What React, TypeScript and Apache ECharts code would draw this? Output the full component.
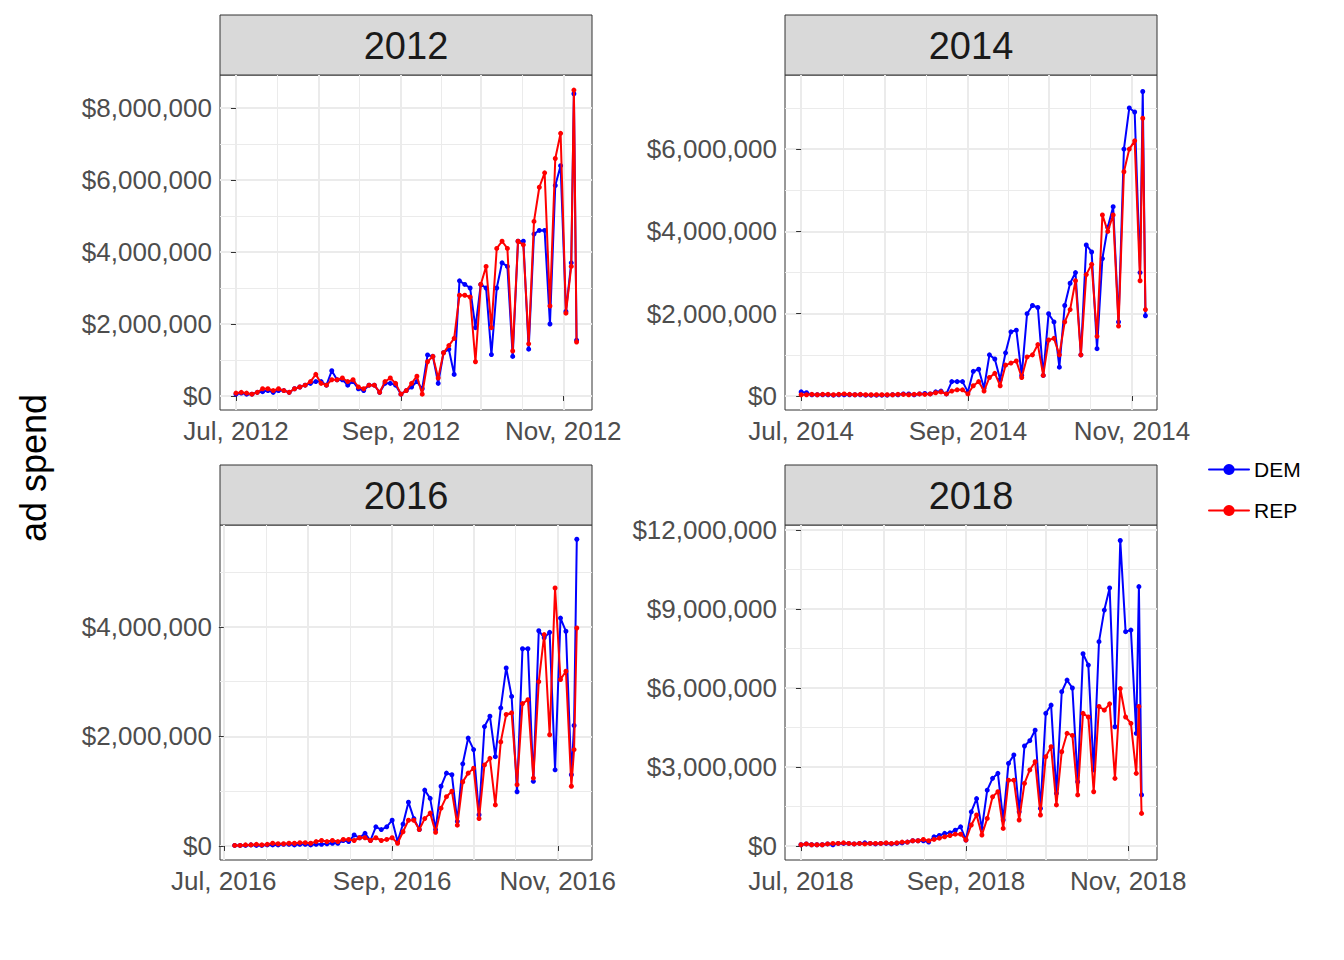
import { useEffect, useRef } from 'react';
import * as echarts from 'echarts';

const YEARS = ['2012', '2014', '2016', '2018'];
const MONTHS = ['Jul', 'Aug', 'Sep', 'Oct', 'Nov'];
// day offsets (from Jul 1) of the month starts and mid-month minor lines
const MONTH_DAYS = [0, 31, 62, 92, 123];
const MID_DAYS = [15.5, 46.5, 77, 107.5];

// sample days (from Jul 1) for 2012, 2014, 2018
const DAYS_A = [
  0, 2, 4, 6, 8, 10, 12, 14, 16, 18, 20, 22, 24, 26, 28, 30, 32, 34, 36, 38, 40, 42, 44, 46, 48,
  50, 52, 54, 56, 58, 60, 62, 64, 66, 68, 70, 72, 74, 76, 78, 80, 82, 84, 86, 88, 90, 92, 94, 96,
  98, 100, 102, 104, 106, 108, 110, 112, 114, 116, 118, 120, 122, 124, 126, 127, 128,
];
// sample days for 2016
const DAYS_B = [
  4, 6, 8, 10, 12, 14, 16, 18, 20, 22, 24, 26, 28, 30, 32, 34, 36, 38, 40, 42, 44, 46, 48, 50, 52,
  54, 56, 58, 60, 62, 64, 66, 68, 70, 72, 74, 76, 78, 80, 82, 84, 86, 88, 90, 92, 94, 96, 98, 100,
  102, 104, 106, 108, 110, 112, 114, 116, 118, 120, 122, 124, 126, 128, 129, 130,
];

// ad spend in millions of dollars
const DEM_2012 = [
  0.05, 0.08, 0.05, 0.05, 0.1, 0.12, 0.15, 0.1, 0.15, 0.15, 0.1, 0.2, 0.25, 0.3, 0.35, 0.4, 0.4, 0.3,
  0.7, 0.45, 0.45, 0.3, 0.4, 0.2, 0.15, 0.3, 0.3, 0.1, 0.35, 0.35, 0.3, 0.05, 0.15, 0.25, 0.4, 0.2,
  1.14, 1.1, 0.35, 1.2, 1.3, 0.6, 3.2, 3.1, 3.0, 1.9, 3.1, 3.0, 1.15, 3.0, 3.7, 3.6, 1.1, 4.3, 4.3,
  1.3, 4.5, 4.6, 4.6, 2.0, 5.85, 6.4, 2.35, 3.7, 8.4, 1.55,
];
const REP_2012 = [
  0.08, 0.1, 0.08, 0.05, 0.1, 0.2, 0.2, 0.15, 0.2, 0.15, 0.1, 0.2, 0.25, 0.3, 0.4, 0.6, 0.35, 0.3,
  0.45, 0.45, 0.5, 0.4, 0.45, 0.25, 0.2, 0.3, 0.3, 0.1, 0.4, 0.5, 0.35, 0.05, 0.15, 0.35, 0.55, 0.05,
  0.95, 1.1, 0.5, 1.2, 1.4, 1.6, 2.8, 2.8, 2.75, 0.95, 3.1, 3.6, 1.9, 4.1, 4.3, 4.1, 1.25, 4.3, 4.2,
  1.45, 4.85, 5.8, 6.2, 2.5, 6.6, 7.3, 2.3, 3.6, 8.5, 1.5,
];
const DEM_2014 = [
  0.1, 0.08, 0.03, 0.03, 0.03, 0.03, 0.02, 0.03, 0.03, 0.03, 0.03, 0.03, 0.02, 0.02, 0.02, 0.02,
  0.02, 0.03, 0.03, 0.05, 0.05, 0.03, 0.05, 0.06, 0.05,
  0.1, 0.12, 0.05, 0.35, 0.35, 0.35, 0.1, 0.6, 0.65, 0.19, 1.0, 0.9, 0.4, 1.05, 1.56, 1.6, 0.5, 2.0,
  2.2, 2.15, 0.5, 2.0, 1.8, 0.7, 2.2, 2.74, 3.0, 1.0, 3.67, 3.5, 1.15, 3.34, 4.1, 4.6, 1.8, 6.0,
  7.0, 6.9, 3.0, 7.4, 1.95,
];
const REP_2014 = [
  0.03, 0.03, 0.04, 0.03, 0.04, 0.04, 0.03, 0.04, 0.05, 0.04, 0.03, 0.04, 0.03, 0.03, 0.03, 0.03,
  0.03, 0.03, 0.04, 0.04, 0.03, 0.04, 0.05, 0.04, 0.05,
  0.08, 0.1, 0.05, 0.12, 0.15, 0.15, 0.05, 0.25, 0.35, 0.12, 0.45, 0.55, 0.25, 0.75, 0.8, 0.85,
  0.45, 0.95, 1.0, 1.25, 0.5, 1.36, 1.4, 1.0, 1.8, 2.1, 2.8, 1.0, 2.95, 3.2, 1.45, 4.4, 4.0, 4.4,
  1.7, 5.45, 6.0, 6.2, 2.8, 6.75, 2.1,
];
const DEM_2016 = [
  0.01, 0.01, 0.01, 0.02, 0.01, 0.01, 0.02, 0.02, 0.02, 0.03, 0.03, 0.02, 0.03, 0.03, 0.02, 0.03,
  0.03, 0.04, 0.05, 0.05, 0.1, 0.08, 0.2, 0.15, 0.23, 0.1, 0.35, 0.3, 0.35, 0.47, 0.08,
  0.4, 0.8, 0.5, 0.3, 1.02, 0.87, 0.3, 1.09, 1.33, 1.3, 0.45, 1.5, 1.97, 1.76, 0.57, 2.18, 2.37,
  1.63, 2.52, 3.25, 2.73, 0.99, 3.6, 3.6, 1.18, 3.93, 3.8, 3.9, 1.39, 4.16, 3.92, 1.3, 2.2, 5.6,
];
const REP_2016 = [
  0.01, 0.01, 0.02, 0.02, 0.03, 0.02, 0.03, 0.05, 0.04, 0.04, 0.05, 0.05, 0.06, 0.06, 0.05, 0.08,
  0.1, 0.08, 0.1, 0.08, 0.12, 0.12, 0.1, 0.15, 0.15, 0.1, 0.15, 0.1, 0.12, 0.15, 0.05,
  0.26, 0.47, 0.47, 0.3, 0.5, 0.6, 0.25, 0.69, 0.9, 1.0, 0.38, 1.17, 1.33, 1.42, 0.5, 1.48, 1.6,
  0.75, 1.9, 2.4, 2.43, 1.12, 2.6, 2.67, 1.24, 3.0, 3.86, 2.03, 4.71, 3.04, 3.19, 1.09, 1.76, 3.98,
];
const DEM_2018 = [
  0.05, 0.08, 0.05, 0.05, 0.05, 0.08, 0.05, 0.1, 0.1, 0.1, 0.08, 0.1, 0.12, 0.1, 0.08, 0.1, 0.1,
  0.08, 0.1, 0.12, 0.15, 0.2, 0.2, 0.2, 0.15, 0.35, 0.4, 0.48, 0.5, 0.6, 0.73,
  0.23, 1.3, 1.8, 0.67, 2.12, 2.57, 2.76, 0.99, 3.14, 3.46, 1.3, 3.8, 4.0, 4.4, 1.43, 5.04, 5.35,
  2.0, 5.86, 6.3, 6.0, 2.44, 7.3, 6.87, 2.89, 7.76, 8.96, 9.8, 4.53, 11.6, 8.14, 8.2, 4.28, 9.85,
  1.94,
];
const REP_2018 = [
  0.05, 0.08, 0.05, 0.05, 0.05, 0.08, 0.1, 0.1, 0.12, 0.1, 0.08, 0.1, 0.08, 0.1, 0.1, 0.1, 0.12,
  0.1, 0.12, 0.15, 0.15, 0.2, 0.2, 0.25, 0.2, 0.25, 0.3, 0.35, 0.4, 0.45, 0.45,
  0.23, 0.8, 1.18, 0.42, 1.05, 1.87, 2.06, 0.67, 2.5, 2.5, 0.99, 2.38, 2.89, 3.2, 1.18, 3.39, 3.77,
  1.56, 3.58, 4.28, 4.2, 1.94, 5.04, 4.9, 2.06, 5.3, 5.16, 5.4, 2.57, 5.98, 4.9, 4.66, 2.76, 5.3,
  1.24,
];

const PANELS = [
  { year: '2012', days: DAYS_A, dem: DEM_2012, rep: REP_2012, left: 220, top: 75, xMin: -6, xMax: 133.8, yMin: -0.39, yMax: 8.92, major: [0, 2, 4, 6, 8], minor: [1, 3, 5, 7] },
  { year: '2014', days: DAYS_A, dem: DEM_2014, rep: REP_2014, left: 785, top: 75, xMin: -6, xMax: 132.3, yMin: -0.34, yMax: 7.8, major: [0, 2, 4, 6], minor: [1, 3, 5, 7] },
  { year: '2016', days: DAYS_B, dem: DEM_2016, rep: REP_2016, left: 220, top: 525, xMin: -1.4, xMax: 135.6, yMin: -0.256, yMax: 5.86, major: [0, 2, 4], minor: [1, 3, 5] },
  { year: '2018', days: DAYS_A, dem: DEM_2018, rep: REP_2018, left: 785, top: 525, xMin: -6, xMax: 133.8, yMin: -0.53, yMax: 12.19, major: [0, 3, 6, 9, 12], minor: [1.5, 4.5, 7.5, 10.5] },
];

const W = 372;
const H = 335;
const FONT = 'Liberation Sans, Arial, sans-serif';
const TICK_COLOR = '#4d4d4d';

export default function App() {
  const ref = useRef<HTMLDivElement>(null);

  useEffect(() => {
    if (!ref.current) return;
    const chart = echarts.init(ref.current, null, { renderer: 'svg' });

    const grids: any[] = [];
    const xAxes: any[] = [];
    const yAxes: any[] = [];
    const series: any[] = [];
    const graphics: any[] = [];

    PANELS.forEach((p, i) => {
      grids.push({ left: p.left, top: p.top, width: W, height: H, show: true, borderColor: '#333', borderWidth: 1, backgroundColor: '#fff' });
      xAxes.push({
        type: 'value', gridIndex: i, min: p.xMin, max: p.xMax,
        axisLine: { show: false },
        splitLine: { show: false },
        axisTick: { show: true, customValues: MONTH_DAYS, length: 5, lineStyle: { color: '#333' } },
        axisLabel: {
          customValues: MONTH_DAYS, color: TICK_COLOR, fontSize: 26, fontFamily: FONT, margin: 8,
          showMinLabel: true, showMaxLabel: true, hideOverlap: false,
          formatter: (v: number) => `${MONTHS[MONTH_DAYS.indexOf(v)]}, ${p.year}`,
        },
      });
      yAxes.push({
        type: 'value', gridIndex: i, min: p.yMin, max: p.yMax,
        axisLine: { show: false },
        splitLine: { show: false },
        axisTick: { show: true, customValues: p.major, length: 5, lineStyle: { color: '#333' } },
        axisLabel: {
          customValues: p.major, color: TICK_COLOR, fontSize: 26, fontFamily: FONT, margin: 8,
          showMinLabel: true, showMaxLabel: true, hideOverlap: false,
          formatter: (v: number) => '$' + Math.round(v * 1e6).toLocaleString('en-US'),
        },
      });
      const lines: any[] = [];
      MID_DAYS.forEach((d) => lines.push({ xAxis: d, lineStyle: { color: '#ebebeb', width: 1, type: 'solid' } }));
      p.minor.forEach((v) => lines.push({ yAxis: v, lineStyle: { color: '#ebebeb', width: 1, type: 'solid' } }));
      MONTH_DAYS.forEach((d) => lines.push({ xAxis: d, lineStyle: { color: '#ebebeb', width: 2, type: 'solid' } }));
      p.major.forEach((v) => lines.push({ yAxis: v, lineStyle: { color: '#ebebeb', width: 2, type: 'solid' } }));
      series.push({
        type: 'line', xAxisIndex: i, yAxisIndex: i, data: [[0, 0]], symbol: 'none', silent: true, z: 0,
        lineStyle: { opacity: 0 },
        markLine: { silent: true, symbol: 'none', label: { show: false }, data: lines, animation: false, z: 0 },
      });
      const mk = (name: string, vals: number[], color: string, z: number) => ({
        name, type: 'line', xAxisIndex: i, yAxisIndex: i, z,
        data: p.days.map((d, k) => [d, vals[k]]),
        symbol: 'circle', symbolSize: 5, showSymbol: true, clip: false,
        itemStyle: { color, borderWidth: 0 },
        lineStyle: { color, width: 2, join: 'round', cap: 'round' },
        emphasis: { disabled: true },
      });
      series.push(mk('DEM', p.dem, '#0000ff', 3));
      series.push(mk('REP', p.rep, '#ff0000', 4));

      graphics.push({
        type: 'rect', shape: { x: p.left, y: p.top - 60, width: W, height: 60 },
        style: { fill: '#d9d9d9', stroke: '#333', lineWidth: 1 },
      });
      graphics.push({
        type: 'text', x: p.left + W / 2, y: p.top - 29,
        style: { text: YEARS[i], fontSize: 38, fontFamily: FONT, fill: '#1a1a1a', align: 'center', verticalAlign: 'middle' },
      });
    });

    graphics.push({
      type: 'text', x: 33, y: 468, rotation: Math.PI / 2,
      style: { text: 'ad spend', fontSize: 36, fontFamily: FONT, fill: '#000', align: 'center', verticalAlign: 'middle' },
    });

    chart.setOption({
      animation: false,
      grid: grids,
      xAxis: xAxes,
      yAxis: yAxes,
      series,
      graphic: graphics,
      legend: {
        data: ['DEM', 'REP'], orient: 'vertical', left: 1203, top: 454, itemGap: 20,
        itemWidth: 40, itemHeight: 14,
        textStyle: { fontSize: 21, fontFamily: FONT, color: '#000' },
      },
    });

    return () => chart.dispose();
  }, []);

  return <div ref={ref} style={{ position: 'absolute', left: 0, top: 0, width: 1344, height: 960, background: '#fff' }} />;
}
